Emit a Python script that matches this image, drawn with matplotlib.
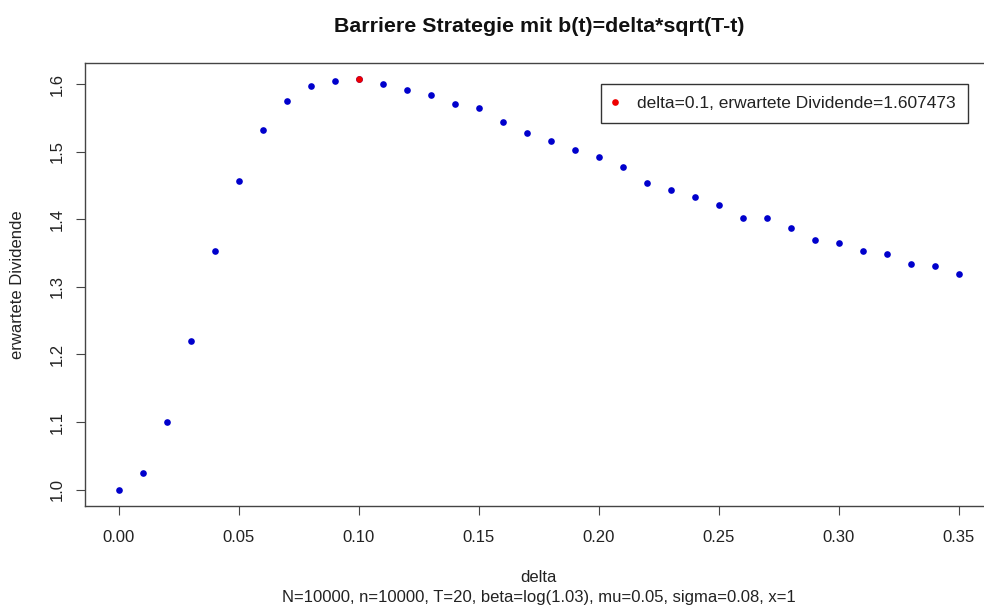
import numpy as np
import matplotlib.pyplot as plt

plt.rcParams['font.family'] = ['Liberation Sans', 'DejaVu Sans']

# delta grid and estimated expected dividend
delta = [0.00, 0.01, 0.02, 0.03, 0.04, 0.05, 0.06, 0.07, 0.08, 0.09,
         0.10, 0.11, 0.12, 0.13, 0.14, 0.15, 0.16, 0.17, 0.18, 0.19,
         0.20, 0.21, 0.22, 0.23, 0.24, 0.25, 0.26, 0.27, 0.28, 0.29,
         0.30, 0.31, 0.32, 0.33, 0.34, 0.35]
dividende = [1.000, 1.025, 1.100, 1.220, 1.353, 1.457, 1.532, 1.575, 1.597, 1.605,
             1.607473, 1.600, 1.592, 1.584, 1.571, 1.564, 1.544, 1.528, 1.516, 1.502,
             1.492, 1.477, 1.454, 1.444, 1.433, 1.421, 1.402, 1.402, 1.387, 1.370,
             1.365, 1.353, 1.349, 1.334, 1.331, 1.319]

best = int(np.argmax(dividende))
best_delta = delta[best]
best_val = dividende[best]

W, H = 984, 608
fig = plt.figure(figsize=(W / 100, H / 100), dpi=100)
left, right, top, bottom = 85, 992.6, 62.7, 506
ax = fig.add_axes([left / W, 1 - bottom / H, (right - left) / W, (bottom - top) / H])

ax.plot(delta, dividende, 'o', color='#0000CC', markersize=4.8, markeredgewidth=0)
ax.plot([best_delta], [best_val], 'o', color='#EE0000', markersize=4.8, markeredgewidth=0,
        label='delta=%g, erwartete Dividende=%.6f' % (best_delta, best_val))

# R style 4% padding
xr = max(delta) - min(delta)
yr = max(dividende) - min(dividende)
ax.set_xlim(min(delta) - 0.04 * xr, max(delta) + 0.04 * xr)
ax.set_ylim(min(dividende) - 0.04 * yr, max(dividende) + 0.04 * yr)

ax.set_xticks(np.arange(0, 0.36, 0.05))
ax.set_xticklabels(['%.2f' % v for v in np.arange(0, 0.36, 0.05)])
ax.set_yticks(np.arange(1.0, 1.61, 0.1))
ax.set_yticklabels(['%.1f' % v for v in np.arange(1.0, 1.61, 0.1)], rotation=90, va='center')

ax.tick_params(direction='out', length=6.5, width=0.8, color='#444444',
               labelsize=12, labelcolor='#222222')
ax.tick_params(axis='x', pad=11)
ax.tick_params(axis='y', pad=8)
for s in ax.spines.values():
    s.set_color('#444444')
    s.set_linewidth(1.0)

leg = ax.legend(loc='upper left', bbox_to_anchor=((600.7 - left) / (right - left), 1 - (84 - top) / (bottom - top)),
                fontsize=12.5, frameon=True, fancybox=False, handlelength=0.3,
                handletextpad=1.1, borderpad=0.69, borderaxespad=0, markerscale=1.0)
leg.get_frame().set_edgecolor('#333333')
leg.get_frame().set_linewidth(1.0)
leg.get_frame().set_alpha(1)
for t in leg.get_texts():
    t.set_color('#222222')

fig.text((left + right) / 2 / W, 1 - 27 / H, 'Barriere Strategie mit b(t)=delta*sqrt(T-t)',
         ha='center', va='center', fontsize=15.4, fontweight='bold', color='#111111')
fig.text((left + right) / 2 / W, 1 - 578 / H, 'delta', ha='center', va='center',
         fontsize=12, color='#222222')
fig.text((left + right) / 2 / W, 1 - 597.5 / H,
         'N=10000, n=10000, T=20, beta=log(1.03), mu=0.05, sigma=0.08, x=1',
         ha='center', va='center', fontsize=12, color='#222222')
fig.text(18 / W, 1 - (top + bottom) / 2 / H, 'erwartete Dividende', ha='center', va='center',
         rotation=90, fontsize=12, color='#222222')

fig.savefig('out.png', dpi=100)
